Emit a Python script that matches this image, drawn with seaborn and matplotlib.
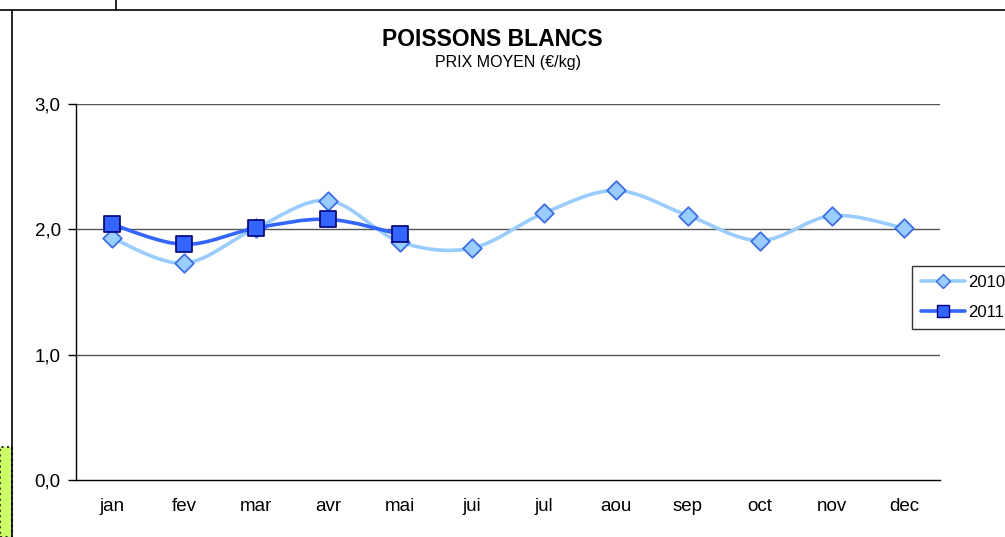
import numpy as np
import pandas as pd
import seaborn as sns
import matplotlib.pyplot as plt
from matplotlib.path import Path
from matplotlib.patches import PathPatch, Rectangle
from matplotlib.lines import Line2D

months = ["jan", "fev", "mar", "avr", "mai", "jui", "jul", "aou", "sep", "oct", "nov", "dec"]
prix_2010 = [1.93, 1.73, 2.01, 2.23, 1.90, 1.85, 2.13, 2.31, 2.11, 1.91, 2.11, 2.01]
prix_2011 = [2.04, 1.88, 2.01, 2.08, 1.96]

col_2010, edge_2010 = "#99CCFF", "#3366FF"
col_2011, edge_2011 = "#3366FF", "#000080"

sns.set_style("white")
plt.rcParams["font.family"] = ["Liberation Sans", "DejaVu Sans"]
plt.rcParams["text.color"] = "black"
plt.rcParams["xtick.color"] = "black"
plt.rcParams["ytick.color"] = "black"


def smooth_path(xs, ys):
    # catmull-rom style bezier, like excel's smoothed line
    pts = np.column_stack([xs, ys]).astype(float)
    n = len(pts)
    verts, codes = [pts[0]], [Path.MOVETO]
    for i in range(n - 1):
        p0 = pts[max(i - 1, 0)]
        p1 = pts[i]
        p2 = pts[i + 1]
        p3 = pts[min(i + 2, n - 1)]
        c1 = p1 + (p2 - p0) / 6
        c2 = p2 - (p3 - p1) / 6
        verts += [c1, c2, p2]
        codes += [Path.CURVE4] * 3
    return Path(verts, codes)


df10 = pd.DataFrame({"x": range(len(prix_2010)), "prix": prix_2010})
df11 = pd.DataFrame({"x": range(len(prix_2011)), "prix": prix_2011})

fig = plt.figure(figsize=(10.05, 5.37), dpi=100)
ax = fig.add_axes([76 / 1005, 1 - 480 / 537, 864 / 1005, 376 / 537])

ax.add_patch(PathPatch(smooth_path(df10["x"], df10["prix"]), fc="none",
                       ec=col_2010, lw=2.6, zorder=2, capstyle="round"))
ax.add_patch(PathPatch(smooth_path(df11["x"], df11["prix"]), fc="none",
                       ec=col_2011, lw=2.6, zorder=3, capstyle="round"))
sns.scatterplot(data=df10, x="x", y="prix", marker="D", s=90, color=col_2010,
                edgecolor=edge_2010, linewidth=1.2, zorder=4, ax=ax)
sns.scatterplot(data=df11, x="x", y="prix", marker="s", s=130, color=col_2011,
                edgecolor=edge_2011, linewidth=1.2, zorder=5, ax=ax)

ax.set_xlim(-0.5, 11.5)
ax.set_ylim(0, 3)
ax.set_yticks([0, 1, 2, 3])
ax.set_yticklabels(["0,0", "1,0", "2,0", "3,0"], fontsize=13.5)
ax.set_xticks(range(12))
ax.set_xticklabels(months, fontsize=13.5)
ax.set_xticks(np.arange(-0.5, 12, 1), minor=True)
ax.tick_params(axis="x", which="major", length=0, pad=13)
ax.tick_params(axis="x", which="minor", length=6, width=1, direction="out", color="black")
ax.tick_params(axis="y", length=6, width=1, direction="out", color="black", left=True, pad=5)
ax.set_xlabel("")
ax.set_ylabel("")
for y in [1, 2, 3]:
    ax.axhline(y, color="#555555", lw=1, zorder=1)
for side in ["top", "right"]:
    ax.spines[side].set_visible(False)
for side in ["left", "bottom"]:
    ax.spines[side].set_color("black")
    ax.spines[side].set_linewidth(1)

fig.text(492 / 1005, 1 - 39 / 537, "POISSONS BLANCS", ha="center", va="center",
         fontsize=16.5, fontweight="bold")
fig.text(508 / 1005, 1 - 63 / 537, "PRIX MOYEN (€/kg)", ha="center", va="center",
         fontsize=11.5)

handles = [
    Line2D([], [], color=col_2010, lw=2.6, marker="D", markersize=7,
           markerfacecolor=col_2010, markeredgecolor=edge_2010),
    Line2D([], [], color=col_2011, lw=2.6, marker="s", markersize=8,
           markerfacecolor=col_2011, markeredgecolor=edge_2011),
]
leg = fig.legend(handles, ["2010", "2011"], loc="upper left",
                 bbox_to_anchor=(912 / 1005, 1 - 266 / 537), fontsize=12,
                 frameon=True, fancybox=False, edgecolor="black",
                 handlelength=2.6, handletextpad=0.2, borderpad=0.55,
                 labelspacing=0.9, borderaxespad=0)
leg.get_frame().set_linewidth(1)

# outer worksheet frame
fig.add_artist(Line2D([0, 1], [1 - 10 / 537, 1 - 10 / 537], color="black", lw=1.2))
fig.add_artist(Line2D([116 / 1005, 116 / 1005], [1 - 10 / 537, 1], color="black", lw=1.2))
fig.add_artist(Rectangle((0, 0), 12 / 1005, 90 / 537, transform=fig.transFigure,
                         facecolor="#CCFF66", edgecolor="#333333", lw=1.5, ls=":"))
fig.add_artist(Line2D([12 / 1005, 12 / 1005], [0, 1 - 10 / 537], color="black", lw=1.2))

fig.savefig("out.png", dpi=100)
